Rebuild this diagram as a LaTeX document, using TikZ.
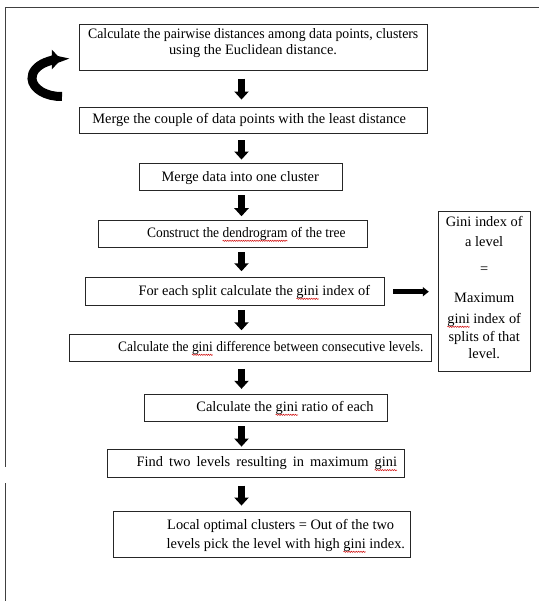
\documentclass[tikz,border=0pt]{standalone}
\usepackage{fontspec}
\setmainfont{Liberation Serif}
\usepackage{graphicx}
\usetikzlibrary{arrows.meta,decorations.pathmorphing}
\newcommand{\fs}{\fontsize{14.4}{17}\selectfont}
\newlength{\sqlen}
\newcommand{\sq}[1]{\settowidth{\sqlen}{#1}\rlap{\tikz[overlay,baseline=0pt]\draw[draw={rgb,255:red,210;green,20;blue,20}, line width=0.55pt, decorate, decoration={snake, amplitude=0.6pt, segment length=2.4pt}] (0pt,-3.5pt) -- (\sqlen,-3.5pt);}#1}
\newcommand{\sqz}[2]{\scalebox{#1}[1]{#2}}
\begin{document}
\begin{tikzpicture}[x=1pt,y=-1pt,
  box/.style={draw=black!85, line width=0.9pt, inner sep=0pt},
  txt/.style={inner sep=0pt, font=\fs, text=black},
  down/.style={line width=6.5pt, -{Triangle[width=14pt,length=8pt]}},
  side/.style={line width=4.5pt, -{Triangle[width=9pt,length=6pt]}},
  frame/.style={draw=black!75, line width=1.2pt}]
\useasboundingbox (0,0) rectangle (539,601);
\fill[white] (0,0) rectangle (539,601);
% outer frame
\draw[frame] (5.5,601) -- (5.5,483);
\draw[frame] (5.5,466.7) -- (5.5,7.3) -- (539,7.3);
% boxes
\node[box, minimum width=347.6pt, minimum height=46.4pt] (B1) at (253.2,47.5) {};
\node[box, minimum width=347.6pt, minimum height=26pt]   (B2) at (253.2,120.3) {};
\node[box, minimum width=203.1pt, minimum height=27.4pt] (B3) at (241.2,177) {};
\node[box, minimum width=268.3pt, minimum height=26.6pt] (B4) at (232.9,234) {};
\node[box, minimum width=298.4pt, minimum height=28pt]   (B5) at (234.8,291.7) {};
\node[box, minimum width=361.6pt, minimum height=27.4pt] (B6) at (250.6,348) {};
\node[box, minimum width=243.4pt, minimum height=27.4pt] (B7) at (266.1,408) {};
\node[box, minimum width=297pt,   minimum height=28.3pt] (B8) at (256.1,463.2) {};
\node[box, minimum width=296.6pt, minimum height=45.6pt] (B9) at (261.7,534.5) {};
\node[box, minimum width=91.5pt,  minimum height=160pt]  (R)  at (484.2,291) {};
% texts
\node[txt, anchor=base] (T1a) at (253.2,38.3) {\sqz{0.958}{Calculate the pairwise distances among data points, clusters}};
\node[txt, anchor=base] (T1b) at (253,55) {using the Euclidean distance.};
\node[txt, anchor=base] (T2) at (249.2,124) {Merge the couple of data points with the least distance};
\node[txt, anchor=base] (T3) at (240.2,181.6) {Merge data into one cluster};
\node[txt, anchor=base] (T4) at (246.3,237.3) {\sqz{0.935}{Construct the \sq{dendrogram} of the tree}};
\node[txt, anchor=base] (T5) at (254.3,295.3) {For each split calculate the \sq{gini} index of};
\node[txt, anchor=base] (T6) at (270.8,351.3) {\sqz{0.933}{Calculate the \sq{gini} difference between consecutive levels.}};
\node[txt, anchor=base] (T7) at (285,411.3) {Calculate the \sq{gini} ratio of each};
\node[txt, anchor=base] (T8) at (266.8,466.6) {\makebox[260.5pt][s]{Find two levels resulting in maximum \sq{gini}}};
\node[txt, anchor=base west] (T9a) at (167,529.3) {Local optimal clusters = Out of the two};
\node[txt, anchor=base west] (T9b) at (166.5,548.3) {levels pick the level with high \sq{gini} index.};
\node[txt, anchor=base] (R1) at (484.2,226.6) {Gini index of};
\node[txt, anchor=base] (R2) at (484.2,246.3) {a level};
\node[txt, anchor=base] (R3) at (484.2,273.5) {=};
\node[txt, anchor=base] (R4) at (484.2,302.3) {Maximum};
\node[txt, anchor=base] (R5) at (484.2,323.3) {\sq{gini} index of};
\node[txt, anchor=base] (R6) at (484.2,341) {splits of that};
\node[txt, anchor=base] (R7) at (484.2,358) {level.};
% connectors
\coordinate (ax) at (241.5,0);
\draw[down, shorten <=7.6pt, shorten >=7.3pt] (B1.south -| ax) -- (B2.north -| ax);
\draw[down, shorten <=6.7pt, shorten >=3.3pt] (B2.south -| ax) -- (B3.north -| ax);
\draw[down, shorten <=4.3pt, shorten >=4pt]   (B3.south -| ax) -- (B4.north -| ax);
\draw[down, shorten <=4.4pt, shorten >=6pt]   (B4.south -| ax) -- (B5.north -| ax);
\draw[down, shorten <=3.6pt, shorten >=3.6pt] (B5.south -| ax) -- (B6.north -| ax);
\draw[down, shorten <=6.6pt, shorten >=5pt]   (B6.south -| ax) -- (B7.north -| ax);
\draw[down, shorten <=4.3pt, shorten >=2pt]   (B7.south -| ax) -- (B8.north -| ax);
\draw[down, shorten <=7.7pt, shorten >=5.7pt] (B8.south -| ax) -- (B9.north -| ax);
\draw[side, shorten <=8.7pt, shorten >=9.2pt] (B5.east) -- (B5.east -| R.west);
% loop arrow
\draw[line width=9pt, -{Triangle[width=19pt,length=9pt]}] (62,96.5) arc[start angle=88, end angle=270, x radius=29, y radius=18.5];
\end{tikzpicture}
\end{document}
